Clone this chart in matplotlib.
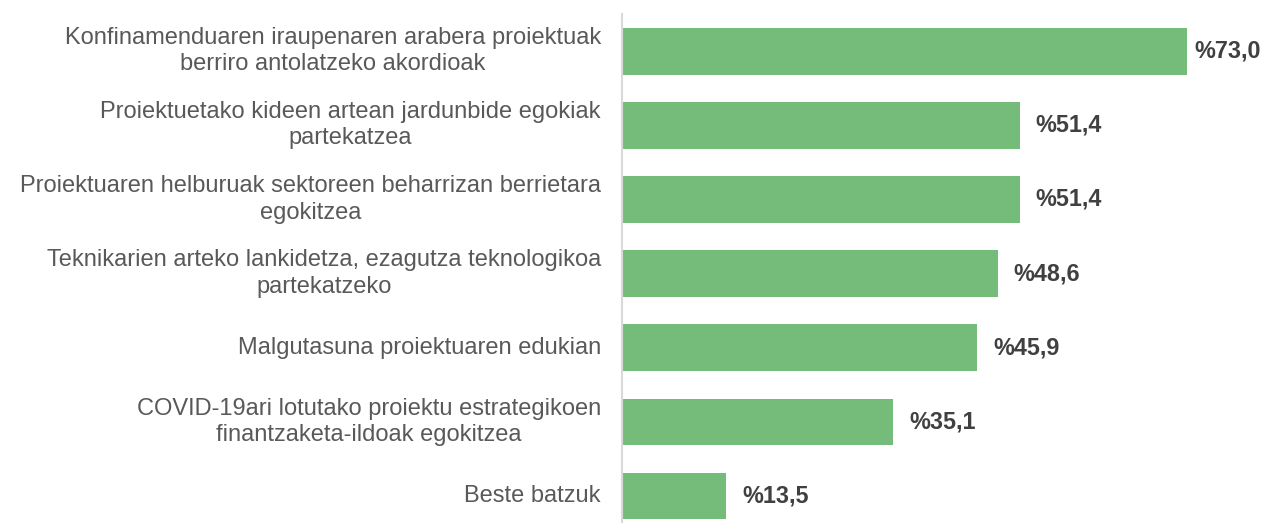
import matplotlib
matplotlib.use("Agg")
import matplotlib.pyplot as plt

plt.rcParams['font.family'] = ['Liberation Sans', 'DejaVu Sans']

categories = [
    "Konfinamenduaren iraupenaren arabera proiektuak\nberriro antolatzeko akordioak",
    "Proiektuetako kideen artean jardunbide egokiak\npartekatzea",
    "Proiektuaren helburuak sektoreen beharrizan berrietara\negokitzea",
    "Teknikarien arteko lankidetza, ezagutza teknologikoa\npartekatzeko",
    "Malgutasuna proiektuaren edukian",
    "COVID-19ari lotutako proiektu estrategikoen\nfinantzaketa-ildoak egokitzea",
    "Beste batzuk",
]
values = [73.0, 51.4, 51.4, 48.6, 45.9, 35.1, 13.5]
value_labels = ["%73,0", "%51,4", "%51,4", "%48,6", "%45,9", "%35,1", "%13,5"]

BAR_COLOR = "#75BC7B"
LABEL_COLOR = "#595959"
VALUE_COLOR = "#404040"

W, H = 1263, 523
fig = plt.figure(figsize=(W / 100, H / 100), dpi=100)
ax = fig.add_axes([621.7 / W, 0, 1 - 621.7 / W, (H - 14) / H])

pos = list(range(len(categories)))
ax.barh(pos, values, height=0.628, color=BAR_COLOR)

ax.set_xlim(0, 82.86)
ax.set_ylim(6.366, -0.503)

ax.set_yticks(pos)
ax.set_yticklabels(categories, fontsize=17, color=LABEL_COLOR)
for t in ax.get_yticklabels():
    t.set_multialignment("center")
    t.set_linespacing(1.25)
    t.set_verticalalignment("center")
ax.tick_params(axis="y", length=0, pad=15)
ax.set_xticks([])

for side in ("top", "right", "bottom"):
    ax.spines[side].set_visible(False)
ax.spines["left"].set_color("#D9D9D9")
ax.spines["left"].set_linewidth(1.5)

# value labels: to the right of each bar, pulled back inside if they overflow
fig.canvas.draw()
renderer = fig.canvas.get_renderer()
pad = 2.07
for i, (v, lab) in enumerate(zip(values, value_labels)):
    t = ax.text(v + pad, i, lab, ha="left", va="center", fontsize=16.8,
                fontweight="bold", color=VALUE_COLOR)
    bb = t.get_window_extent(renderer)
    if bb.x1 > W - 2:
        shift = (bb.x1 - (W - 2))
        x0 = ax.transData.inverted().transform((bb.x0 - shift, 0))[0]
        t.set_x(x0)

fig.savefig("out.png", dpi=100)
